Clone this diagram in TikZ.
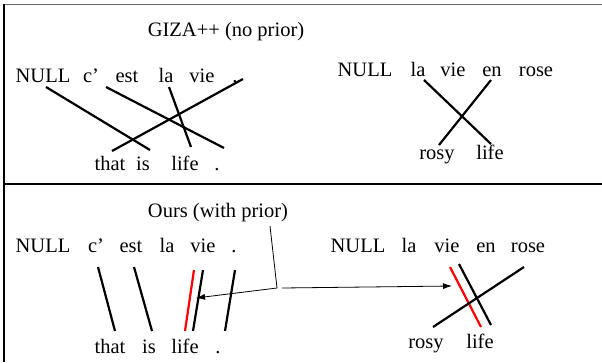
\documentclass[tikz,border=0pt]{standalone}
\usepackage{fontspec}
\setmainfont{Liberation Serif}
\usetikzlibrary{arrows.meta}
\begin{document}
\begin{tikzpicture}[x=1pt,y=-1pt,
  word/.style={anchor=base,inner sep=0pt,font=\fontsize{20.5}{24}\selectfont},
  link/.style={line width=2.2pt},
  redlink/.style={line width=2.2pt,red},
  pointer/.style={line width=0.8pt},
  pointerarrow/.style={line width=0.8pt,-{Latex[length=9pt,width=6pt]}},
  frame/.style={line width=1.6pt}]
\useasboundingbox (0,0) rectangle (602,362);
% frame
\draw[frame,gray!80!black] (4,4.5) -- (602,4.5);
\draw[frame] (4,4) -- (4,362);
\draw[frame] (4,184) -- (602,184);
% ---------- top panel ----------
\node[word] (giza) at (226,36) {GIZA++ (no prior)};
\node[word] (aNULL) at (43,82) {NULL};
\node[word] (ac) at (91,82) {c’};
\node[word] (aest) at (127,82) {est};
\node[word] (ala) at (166,82) {la};
\node[word] (avie) at (202,82) {vie};
\node[word] (adot) at (235,82) {.};
\node[word] (athat) at (110,170) {that};
\node[word] (ais) at (143,170) {is};
\node[word] (alife) at (185,170) {life};
\node[word] (adot2) at (217,170) {.};
\coordinate (a1s) at (46,87);  \coordinate (a1e) at (150,150);
\coordinate (a2s) at (106,87); \coordinate (a2e) at (224,148);
\coordinate (a3s) at (169,87); \coordinate (a3e) at (191,147);
\coordinate (a4s) at (243,79); \coordinate (a4e) at (112,151);
\draw[link] (a1s) -- (a1e);
\draw[link] (a2s) -- (a2e);
\draw[link] (a3s) -- (a3e);
\draw[link] (a4s) -- (a4e);
\node[word] (bNULL) at (365,76) {NULL};
\node[word] (bla) at (418,76) {la};
\node[word] (bvie) at (453,76) {vie};
\node[word] (ben) at (492,76) {en};
\node[word] (brose) at (536,76) {rose};
\node[word] (brosy) at (437,159) {rosy};
\node[word] (blife) at (490,159) {life};
\coordinate (b1s) at (424,80); \coordinate (b1e) at (491,144);
\coordinate (b2s) at (491,80); \coordinate (b2e) at (439,145);
\draw[link] (b1s) -- (b1e);
\draw[link] (b2s) -- (b2e);
% ---------- bottom panel ----------
\node[word] (ours) at (218,217) {Ours (with prior)};
\node[word] (cNULL) at (43,252) {NULL};
\node[word] (cc) at (96,252) {c’};
\node[word] (cest) at (131,252) {est};
\node[word] (cla) at (167,252) {la};
\node[word] (cvie) at (203,252) {vie};
\node[word] (cdot) at (234,252) {.};
\node[word] (cthat) at (110,353) {that};
\node[word] (cis) at (149,353) {is};
\node[word] (clife) at (185,353) {life};
\node[word] (cdot2) at (218,353) {.};
\coordinate (c1s) at (98,267);  \coordinate (c1e) at (115,331);
\coordinate (c2s) at (134,267); \coordinate (c2e) at (152,331);
\coordinate (c3s) at (194,270); \coordinate (c3e) at (185,331);
\coordinate (c4s) at (203,270); \coordinate (c4e) at (193,331);
\coordinate (c5s) at (235,270); \coordinate (c5e) at (225,331);
\draw[link] (c1s) -- (c1e);
\draw[link] (c2s) -- (c2e);
\draw[redlink] (c3s) -- (c3e);
\draw[link] (c4s) -- (c4e);
\draw[link] (c5s) -- (c5e);
\node[word] (dNULL) at (358,252) {NULL};
\node[word] (dla) at (409,252) {la};
\node[word] (dvie) at (447,252) {vie};
\node[word] (den) at (486,252) {en};
\node[word] (drose) at (528,252) {rose};
\node[word] (drosy) at (426,348) {rosy};
\node[word] (dlife) at (480,348) {life};
\coordinate (d1s) at (450,267); \coordinate (d1e) at (481,327);
\coordinate (d2s) at (459,264); \coordinate (d2e) at (491,325);
\coordinate (d3s) at (524,267); \coordinate (d3e) at (433,327);
\draw[redlink] (d1s) -- (d1e);
\draw[link] (d2s) -- (d2e);
\draw[link] (d3s) -- (d3e);
% pointers
\coordinate (p0) at (270,226);
\coordinate (p1) at (277,288);
\coordinate (p1b) at (282,288);
\coordinate (tipL) at (196,298);
\coordinate (tipR) at (452,286);
\draw[pointer] (p0) -- (p1);
\draw[pointerarrow] (p1) -- (tipL);
\draw[pointerarrow] (p1b) -- (tipR);
\end{tikzpicture}
\end{document}
